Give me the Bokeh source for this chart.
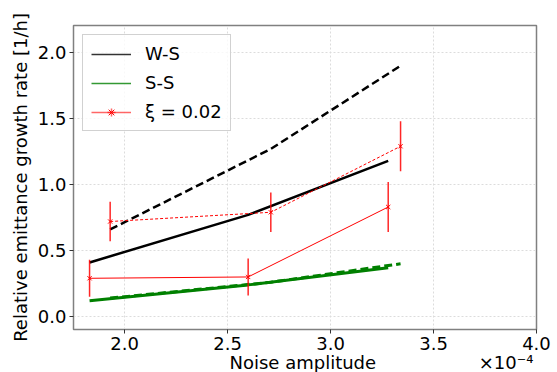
import numpy as np
from bokeh.plotting import figure
from bokeh.models import Range1d, FixedTicker, Legend, LegendItem, Label
from bokeh.embed import file_html
from bokeh.resources import INLINE

# Noise amplitude in units of 1e-4
noise_a = [1.83, 2.60, 3.28]
noise_b = [1.93, 2.71, 3.34]
ws_solid = [0.41, 0.77, 1.18]
ws_dashed = [0.66, 1.27, 1.90]
ss_solid = [0.12, 0.24, 0.37]
ss_dashed = [0.14, 0.26, 0.40]
xi_solid = [0.29, 0.30, 0.83]
xi_solid_err = [0.14, 0.14, 0.19]
xi_dashed = [0.72, 0.79, 1.29]
xi_dashed_err = [0.15, 0.15, 0.19]
x_ticks = [2.0, 2.5, 3.0, 3.5, 4.0]
y_ticks = [0.0, 0.5, 1.0, 1.5, 2.0]
x_tick_labels = ["2.0", "2.5", "3.0", "3.5", "4.0"]
y_tick_labels = ["0.0", "0.5", "1.0", "1.5", "2.0"]
x_label = "Noise amplitude"
x_offset_text = "×10⁻⁴"

FONT = "DejaVu Sans"
FS = "18px"

p = figure(frame_width=463, frame_height=304, output_backend="svg", toolbar_location=None,
           x_range=Range1d(1.752, 4.0), y_range=Range1d(-0.098, 2.205),
           min_border_left=73, min_border_right=21, min_border_top=25, min_border_bottom=43)
p.background_fill_color = "white"
p.border_fill_color = "white"
p.outline_line_color = "#808080"
p.outline_line_width = 1.5

# grid
for g, t in ((p.xgrid, x_ticks), (p.ygrid, y_ticks)):
    g.ticker = FixedTicker(ticks=t)
    g.grid_line_color = "#dcdcdc"
    g.grid_line_dash = "2 2"

# axes
p.xaxis.ticker = FixedTicker(ticks=x_ticks)
p.yaxis.ticker = FixedTicker(ticks=y_ticks)
p.xaxis.major_label_overrides = {t: l for t, l in zip(x_ticks, x_tick_labels)}
p.yaxis.major_label_overrides = {t: l for t, l in zip(y_ticks, y_tick_labels)}
p.yaxis.axis_label = "Relative emittance growth rate [1/h]"
for ax in (p.xaxis[0], p.yaxis[0]):
    ax.axis_line_color = "#808080"
    ax.major_tick_line_color = "#333333"
    ax.major_tick_out = 4
    ax.major_tick_in = 0
    ax.minor_tick_out = 0
    ax.minor_tick_in = 0
    ax.major_label_text_font = FONT
    ax.major_label_text_font_size = FS
    ax.major_label_text_color = "black"
    ax.axis_label_text_font = FONT
    ax.axis_label_text_font_size = FS
    ax.axis_label_text_font_style = "normal"
    ax.axis_label_text_color = "black"
    ax.major_label_standoff = 3
    ax.axis_label_standoff = 4

# W-S (black)
p.line(noise_a, ws_solid, line_color="black", line_width=2.5)
p.line(noise_b, ws_dashed, line_color="black", line_width=2.5, line_dash="8 4")

# S-S (green)
p.line(noise_a, ss_solid, line_color="green", line_width=3)
p.line(noise_b, ss_dashed, line_color="green", line_width=3, line_dash="8 4")

# xi = 0.02 (red, with error bars)
xa = np.array(noise_a)
xb = np.array(noise_b)
ya = np.array(xi_solid)
yb = np.array(xi_dashed)
ea = np.array(xi_solid_err)
eb = np.array(xi_dashed_err)

p.line(noise_a, xi_solid, line_color="red", line_width=1)
p.line(noise_b, xi_dashed, line_color="red", line_width=1, line_dash="3 2")
p.segment(x0=xa, y0=ya - ea, x1=xa, y1=ya + ea, line_color="red", line_width=1.5, line_alpha=0.85)
p.segment(x0=xb, y0=yb - eb, x1=xb, y1=yb + eb, line_color="red", line_width=1.5, line_alpha=0.85)
p.scatter(noise_a, xi_solid, marker="x", size=6, line_color="red", line_width=1)
p.scatter(noise_b, xi_dashed, marker="x", size=6, line_color="red", line_width=1)

# legend-only glyphs (thin lines as in the reference legend); NaN data, never visible in the plot
nan = [np.nan]
leg_ws = p.line(nan, nan, line_color="black", line_width=1.5, line_alpha=0.8)
leg_ss = p.line(nan, nan, line_color="green", line_width=1.5, line_alpha=0.8)
leg_xi = p.line(nan, nan, line_color="red", line_width=1.5, line_alpha=0.6)
leg_cross = p.scatter(nan, nan, marker="cross", size=10, line_color="red", line_alpha=0.6, line_width=1.5)
leg_x = p.scatter(nan, nan, marker="x", size=6, line_color="red", line_width=1)

legend = Legend(items=[
    LegendItem(label="W-S", renderers=[leg_ws]),
    LegendItem(label="S-S", renderers=[leg_ss]),
    LegendItem(label="ξ = 0.02", renderers=[leg_xi, leg_cross, leg_x]),
], location="top_left")
legend.margin = 9
legend.padding = 8
legend.spacing = 8
legend.glyph_width = 40
legend.glyph_height = 20
legend.label_height = 20
legend.label_standoff = 14
legend.label_text_font = FONT
legend.label_text_font_size = FS
legend.label_text_color = "black"
legend.border_line_color = "#cccccc"
legend.border_line_alpha = 0.9
legend.background_fill_color = "white"
legend.background_fill_alpha = 0.8
p.add_layout(legend)

# x axis label with the offset multiplier on the same line (em/en/thin spaces as a gap),
# placed in the bottom side panel so it is not clipped by the frame
gap = "\u2003" * 5 + "\u2002" + "\u2009"
p.add_layout(Label(x=156, y=11, x_units="screen", y_units="screen",
                   text=x_label + gap + x_offset_text,
                   text_font=FONT, text_font_size=FS, text_align="left",
                   text_baseline="alphabetic", text_color="black"), "below")

open("out.html", "w").write(file_html(p, INLINE))
